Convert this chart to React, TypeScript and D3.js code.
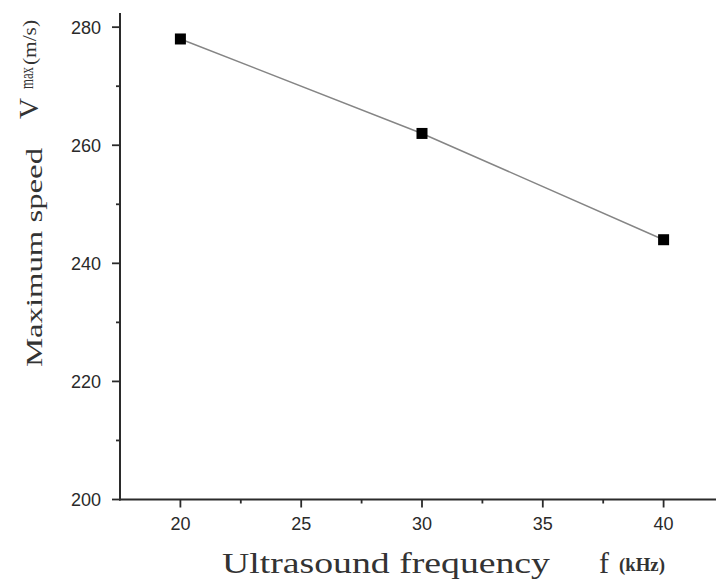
import React from "react";
import * as d3 from "d3";

// data
const frequencies = [20, 30, 40];
const maxSpeeds = [278, 262, 244];
const xMajorTicks = [20, 25, 30, 35, 40];
const xMinorTicks = [22.5, 27.5, 32.5, 37.5];
const yMajorTicks = [200, 220, 240, 260, 280];
const yMinorTicks = [210, 230, 250, 270];

const W = 716;
const H = 581;
const axisColor = "#2b2b2b";
const tickFont = "'Liberation Sans', Arial, sans-serif";
const titleFont = "'Liberation Serif', 'DejaVu Serif', serif";

export default function App() {
  const x = d3.scaleLinear().domain([17.5, 42.5]).range([120, 724]);
  const y = d3.scaleLinear().domain([200, 282.4]).range([499.5, 13]);

  const points = frequencies.map((f, i) => [f, maxSpeeds[i]] as [number, number]);
  const line = d3
    .line<[number, number]>()
    .x(d => x(d[0]))
    .y(d => y(d[1]));

  const [x0, x1] = x.range();
  const [y0, y1] = y.range();

  return (
    <svg
      width={W}
      height={H}
      style={{ position: "absolute", left: 0, top: 0, background: "#fff" }}
    >
      <rect width={W} height={H} fill="#fff" />

      {/* data line + markers */}
      <path d={line(points) || ""} fill="none" stroke="#858585" strokeWidth={1.5} />
      {points.map(d => (
        <rect
          key={d[0]}
          x={x(d[0]) - 5.5}
          y={y(d[1]) - 5.5}
          width={11}
          height={11}
          fill="#000"
        />
      ))}

      {/* y axis */}
      <line x1={x0} x2={x0} y1={y1} y2={y0 + 1} stroke={axisColor} strokeWidth={2} />
      {yMajorTicks.map(t => (
        <g key={"ym" + t}>
          <line x1={x0 - 8} x2={x0} y1={y(t)} y2={y(t)} stroke={axisColor} strokeWidth={1.8} />
          <text
            x={101}
            y={y(t)}
            dy="0.36em"
            textAnchor="end"
            fontFamily={tickFont}
            fontSize={18}
            fill="#2a2a2a"
          >
            {t}
          </text>
        </g>
      ))}
      {yMinorTicks.map(t => (
        <line key={"yn" + t} x1={x0 - 4} x2={x0} y1={y(t)} y2={y(t)} stroke={axisColor} strokeWidth={1.8} />
      ))}

      {/* x axis */}
      <line x1={x0 - 1} x2={x1} y1={y0} y2={y0} stroke={axisColor} strokeWidth={2} />
      {xMajorTicks.map(t => (
        <g key={"xm" + t}>
          <line x1={x(t)} x2={x(t)} y1={y0} y2={y0 + 8} stroke={axisColor} strokeWidth={1.8} />
          <text
            x={x(t)}
            y={530}
            textAnchor="middle"
            fontFamily={tickFont}
            fontSize={18}
            fill="#2a2a2a"
          >
            {t}
          </text>
        </g>
      ))}
      {xMinorTicks.map(t => (
        <line key={"xn" + t} x1={x(t)} x2={x(t)} y1={y0} y2={y0 + 4} stroke={axisColor} strokeWidth={1.8} />
      ))}

      {/* x title */}
      <text
        x={222}
        y={573}
        fontFamily={titleFont}
        fontSize={30}
        fill="#333"
        textLength={328}
        lengthAdjust="spacingAndGlyphs"
      >
        Ultrasound frequency
      </text>
      <text x={599} y={573} fontFamily={titleFont} fontSize={30} fill="#333">
        f
      </text>
      <text
        x={619}
        y={571}
        fontFamily={titleFont}
        fontWeight="bold"
        fontSize={19}
        fill="#333"
        textLength={46}
        lengthAdjust="spacingAndGlyphs"
      >
        (kHz)
      </text>

      {/* y title */}
      <text
        transform="translate(42,367) rotate(-90)"
        fontFamily={titleFont}
        fontSize={23}
        fill="#333"
        textLength={219}
        lengthAdjust="spacingAndGlyphs"
      >
        Maximum speed
      </text>
      <text
        transform="translate(38,119) rotate(-90)"
        fontFamily={titleFont}
        fontSize={28}
        fill="#333"
        textLength={21}
        lengthAdjust="spacingAndGlyphs"
      >
        V
      </text>
      <text
        transform="translate(33,89) rotate(-90)"
        fontFamily={titleFont}
        fontSize={18}
        fill="#333"
        textLength={22}
        lengthAdjust="spacingAndGlyphs"
      >
        max
      </text>
      <text
        transform="translate(36,65) rotate(-90)"
        fontFamily={titleFont}
        fontSize={18}
        fill="#333"
        textLength={45}
        lengthAdjust="spacingAndGlyphs"
      >
        (m/s)
      </text>
    </svg>
  );
}
